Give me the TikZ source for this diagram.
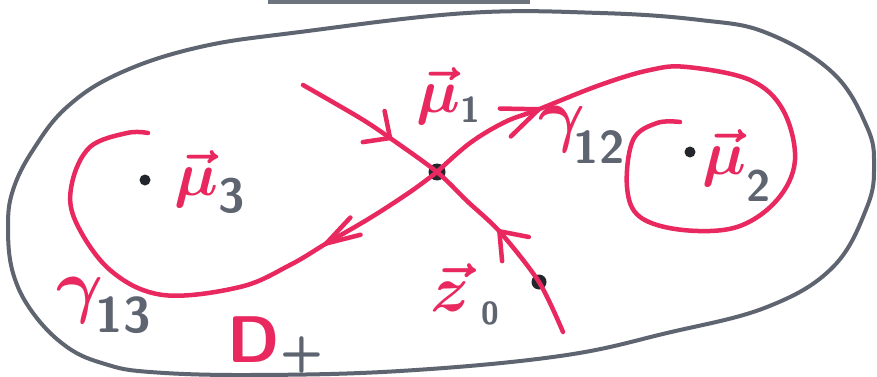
\RequirePackage{fix-cm}
\documentclass[tikz,border=0pt]{standalone}
\usetikzlibrary{decorations.markings}
\definecolor{inkred}{HTML}{E8285E}
\definecolor{inkgray}{HTML}{5E6470}
\definecolor{inkdark}{HTML}{24262E}
\newcommand{\barbtip}[2]{\draw[redline] (-#1pt,#2pt) -- (0pt,0pt) -- (-#1pt,-#2pt);}
\newcommand{\musub}[3]{$\vec{\mu}_{\lower#2pt\hbox{\sffamily\bfseries\fontsize{#3}{#3}\selectfont\color{inkgray}#1}}$}
\begin{document}
\begin{tikzpicture}[x=1pt,y=-1pt,
  redline/.style={draw=inkred,line width=4.5pt,line cap=round,line join=round},
  grayline/.style={draw=inkgray,line width=4pt,line cap=round,line join=round},
  inkdot/.style={circle,fill=inkdark,inner sep=0pt,minimum size=#1},
  redsym/.style={text=inkred,inner sep=0pt,font=\boldmath\fontsize{#1}{#1}\selectfont},
  graysub/.style={text=inkgray,inner sep=0pt,font=\sffamily\bfseries\fontsize{#1}{#1}\selectfont}]
\useasboundingbox (0,0) rectangle (877,377);
\fill[white] (0,0) rectangle (877,377);
% top bar
\fill[inkgray!90] (268,0) rectangle (530,4);
% outer boundary
\draw[grayline] plot[smooth cycle,tension=0.65] coordinates {
 (600,13) (700,20) (767,33) (833,73) (867,127) (874,165) (867,207) (833,267)
 (767,307) (667,333) (560,356) (400,371) (250,375) (150,372) (105,364)
 (67,347) (33,313) (13,273) (8,227) (13,190) (33,150) (67,107) (120,73)
 (200,47) (300,32) (467,13)};
% points
\node[inkdot=17pt] (x) at (437,172) {};
\node[inkdot=15pt] (z) at (539,282) {};
\node[inkdot=11pt] (p2) at (690,152) {};
\node[inkdot=11pt] (p3) at (145,180) {};
\coordinate (s1) at (303,85);
\coordinate (e1) at (563,332);
\coordinate (e12) at (680,122);
\coordinate (e13) at (148,133);
% line through crossing
\draw[redline,postaction={decorate},decoration={markings,
  mark=at position 102pt with {\barbtip{20}{19}},
  mark=at position 246pt with {\barbtip{-24}{18}}}]
  plot[smooth,tension=0.5] coordinates {(s1) (360,118) (390,138) (x.center) (467,201) (500,232) (z.center) (e1)};
% gamma 12
\draw[redline,postaction={decorate},decoration={markings,
  mark=at position 121pt with {\barbtip{36}{15}}}]
  plot[smooth,tension=0.6] coordinates {(x.center) (470,143) (505,122) (537,110) (600,85) (650,70) (687,67)
   (750,80) (783,110) (795,160) (777,200) (737,227) (683,230) (640,217) (627,187) (633,140) (657,123) (e12)};
% gamma 13
\draw[redline,postaction={decorate},decoration={markings,
  mark=at position 132pt with {\barbtip{34}{10}}}]
  plot[smooth,tension=0.6] coordinates {(x.center) (410,192) (370,218) (327,243) (290,265) (240,287) (163,295)
   (110,270) (75,220) (72,183) (90,147) (127,133) (e13)};
% labels
\node[redsym=62,anchor=base west] (m1) at (416,113) {\musub{1}{0}{36}};
\node[redsym=62,anchor=base west] (m2) at (702,174) {\musub{2}{18}{44}};
\node[redsym=62,anchor=base west] (m3) at (174,195) {\musub{3}{8}{48}};
\node[redsym=72] (g12) at (562,129) {$\gamma$};
\node[graysub=46] (g12s) at (599,147) {12};
\node[redsym=72] (g13) at (80,300) {$\gamma$};
\node[graysub=50] (g13s) at (123,315) {13};
\node[redsym=66] (z0) at (450,288) {$\vec{z}$};
\node[graysub=32] (z0s) at (490,313) {0};
\node[redsym=70,font=\sffamily\bfseries\fontsize{66}{66}\selectfont] (D) at (254,340) {D};
\node[graysub=50] (Dp) at (302,355) {+};
\end{tikzpicture}
\end{document}
